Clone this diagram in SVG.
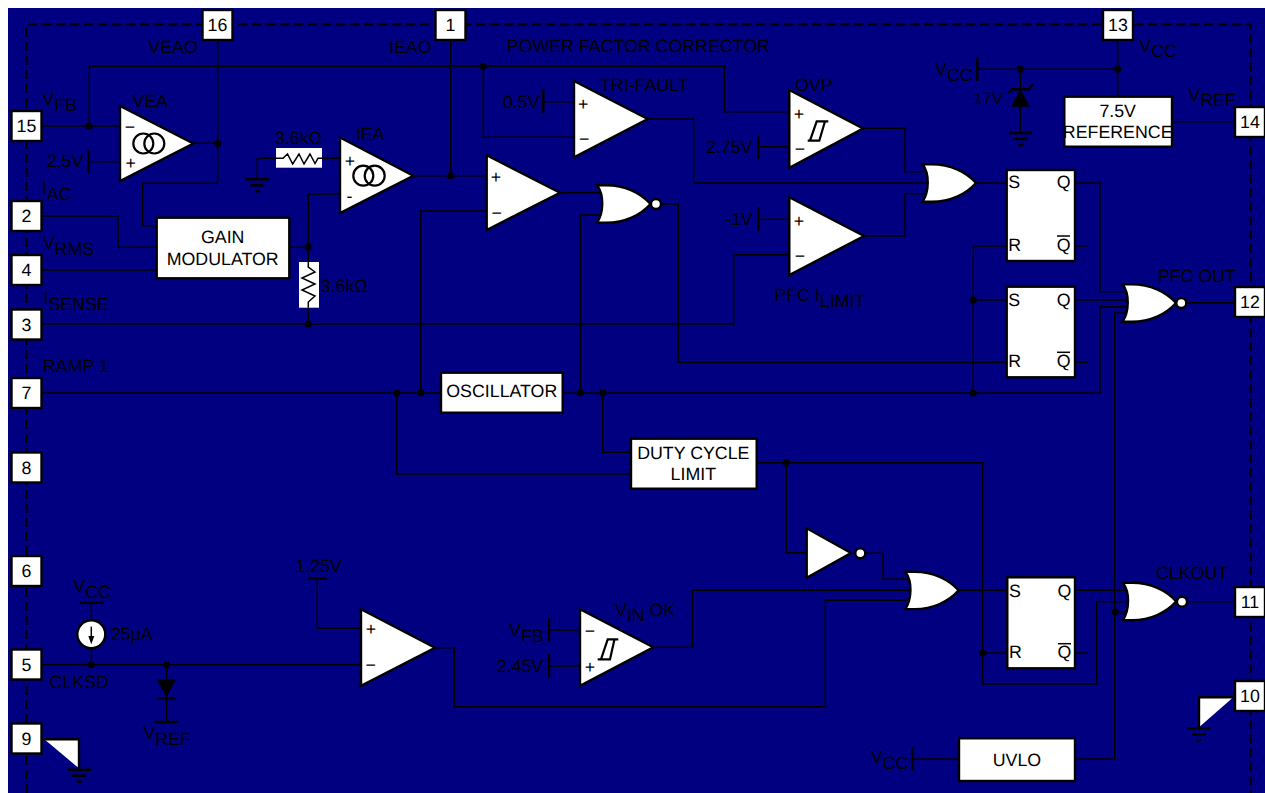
<svg xmlns="http://www.w3.org/2000/svg" xmlns:xlink="http://www.w3.org/1999/xlink" width="1265" height="793" viewBox="0 0 1265 793">
<style>
text{font-family:"Liberation Sans",Arial,sans-serif;font-size:17.8px;fill:#000;text-rendering:geometricPrecision}
.m{text-anchor:middle}
.w{fill:none;stroke:#000;stroke-width:1.5}
.b{fill:#fff;stroke:#000;stroke-width:2.4}
.bar{fill:none;stroke:#000;stroke-width:2.4}
.r{fill:#fff;stroke:none}
.hy{fill:none;stroke:#000;stroke-width:2.2}
.c{fill:none;stroke:#000;stroke-width:2.2}
.bd{fill:none;stroke:#000;stroke-width:2.2;stroke-dasharray:9 5}
</style>
<defs>
<circle id="dot" r="3.5" fill="#000"/>
<g id="gnd"><path class="bar" d="M-11.7,0H11.7M-7,6H7M-2.5,12H2.5"/></g>
<path id="orshape" class="b" d="M-1.5,0H8C26,0 42,7.5 52,18.7C42,30 26,37.4 8,37.4H-1.5C5,28 6,9.5 -1.5,0Z"/>
</defs>
<rect width="1265" height="793" fill="#fff"/>
<rect x="8" y="8" width="1257" height="785" fill="#000080"/>
<path id="package-outline" class="bd" d="M26.5,793V24.7H1250.7V793"/>
<g id="connectors">
<path class="w" d="M42,126H120M89.3,126V66.3H724.3V111.7H789.3M483.3,66.3V137.3H574"/>
<path class="w" d="M217.7,40V183.3H142.7V225.7H157M193,143.3H217.7"/>
<path class="w" d="M42,216H118V247.3H157M42,270H157"/>
<path class="w" d="M289,247.3H308.3M340,194H308.3V324"/>
<path class="w" d="M42,324H733.7V254.7H789.3"/>
<path class="w" d="M340,158.3H257.3V179"/>
<path class="w" d="M413,175.7H487M450.7,40V175.7"/>
<path class="w" d="M487,211H420.7V393M42,393H441M396.8,393V474H631"/>
<path class="w" d="M562,393H1100V306.7H1128M580.3,393V215H602M602.7,393V452.3H631"/>
<path class="w" d="M973.3,393V246H1007M973.3,300H1007"/>
<path class="w" d="M560,192.7H603M661,204H678.3V362.3H1007"/>
<path class="w" d="M647.7,119H693.7V183H928M976,183H1007"/>
<path class="w" d="M863,128.3H905V171.7H927M864,236H905V193.7H927"/>
<path class="w" d="M1075,183H1100V291.7H1128M1075,300H1128M1075,246H1087.7M1075,362.3H1087.7"/>
<path class="w" d="M1186,302.7H1235M1172,121.7H1235"/>
<path class="w" d="M1117.7,40V97M977.3,69.3H1117.7M1020.3,69.3V133"/>
<path class="w" d="M543.3,101.7H574M88.7,161.7H120M758.3,146.7H789.3M758.3,219.3H789.3"/>
<path class="w" d="M91.3,602.7V620M91.3,648V664.7M42,664.7H361M166.7,664.7V722"/>
<path class="w" d="M317.3,578.3V628.3H361"/>
<path class="w" d="M435,647.7H454.3V706.7H825.3V600.3H910"/>
<path class="w" d="M549,630H580M549,666H580"/>
<path class="w" d="M653,647.3H692.3V590.3H911M958,590.3H1007"/>
<path class="w" d="M757,462.7H982.7V684H1096.7V601.7H1128M982.7,653H1007M786.3,462.7V552.7H807"/>
<path class="w" d="M865,553.3H883V579H909"/>
<path class="w" d="M1075,590.3H1128M1075,653H1088M1187,601.7H1235"/>
<path class="w" d="M1128,313H1114.7V759H1075M1114.7,612H1128M1100,306.7H1128"/>
<path class="w" d="M912.7,759H959"/>
<use xlink:href="#dot" x="89.3" y="126"/><use xlink:href="#dot" x="217.7" y="143.3"/><use xlink:href="#dot" x="308.3" y="247.3"/><use xlink:href="#dot" x="308.3" y="324"/><use xlink:href="#dot" x="450.7" y="175.7"/><use xlink:href="#dot" x="483.3" y="66.3"/><use xlink:href="#dot" x="396.8" y="393"/><use xlink:href="#dot" x="420.7" y="393"/><use xlink:href="#dot" x="580.3" y="393"/><use xlink:href="#dot" x="602.7" y="393"/><use xlink:href="#dot" x="973.3" y="393"/><use xlink:href="#dot" x="973.3" y="300"/><use xlink:href="#dot" x="1020.3" y="69.3"/><use xlink:href="#dot" x="1117.7" y="69.3"/><use xlink:href="#dot" x="91.3" y="664.7"/><use xlink:href="#dot" x="166.7" y="664.7"/><use xlink:href="#dot" x="786.3" y="462.7"/><use xlink:href="#dot" x="982.7" y="653"/><use xlink:href="#dot" x="1115.3" y="612"/>
</g>

<g id="pin-16"><rect class="b" x="202.5" y="10" width="30" height="30"/><text class="m" x="217.5" y="31">16</text></g>
<g id="pin-1"><rect class="b" x="435.5" y="10" width="30" height="30"/><text class="m" x="450.5" y="31">1</text></g>
<g id="pin-13"><rect class="b" x="1103" y="10" width="30" height="30"/><text class="m" x="1118" y="31">13</text></g>
<g id="pin-15"><rect class="b" x="11.5" y="111" width="30" height="30"/><text class="m" x="26.5" y="132">15</text></g>
<g id="pin-2"><rect class="b" x="11.5" y="201" width="30" height="30"/><text class="m" x="26.5" y="222">2</text></g>
<g id="pin-4"><rect class="b" x="11.5" y="255" width="30" height="30"/><text class="m" x="26.5" y="276">4</text></g>
<g id="pin-3"><rect class="b" x="11.5" y="309.5" width="30" height="30"/><text class="m" x="26.5" y="330.5">3</text></g>
<g id="pin-7"><rect class="b" x="11.5" y="378" width="30" height="30"/><text class="m" x="26.5" y="399">7</text></g>
<g id="pin-8"><rect class="b" x="11.5" y="452.5" width="30" height="30"/><text class="m" x="26.5" y="473.5">8</text></g>
<g id="pin-6"><rect class="b" x="11.5" y="556" width="30" height="30"/><text class="m" x="26.5" y="577">6</text></g>
<g id="pin-5"><rect class="b" x="11.5" y="649.5" width="30" height="30"/><text class="m" x="26.5" y="670.5">5</text></g>
<g id="pin-9"><rect class="b" x="11.5" y="723.5" width="30" height="30"/><text class="m" x="26.5" y="744.5">9</text></g>
<g id="pin-14"><rect class="b" x="1235" y="107" width="30" height="30"/><text class="m" x="1250" y="128">14</text></g>
<g id="pin-12"><rect class="b" x="1235" y="287" width="30" height="30"/><text class="m" x="1250" y="308">12</text></g>
<g id="pin-11"><rect class="b" x="1235" y="587" width="30" height="30"/><text class="m" x="1250" y="608">11</text></g>
<g id="pin-10"><rect class="b" x="1235" y="681" width="30" height="30"/><text class="m" x="1250" y="702">10</text></g>

<g id="vea"><path class="b" d="M120,106V181L193.3,143.5Z"/><circle class="c" cx="143.3" cy="143.5" r="10"/><circle class="c" cx="154.3" cy="143.5" r="10"/><text class="m" x="130" y="133">−</text><text class="m" x="130.7" y="169">+</text></g>
<g id="vref-25"><path class="bar" d="M88.7,150V173"/><text x="46.7" y="167">2.5V</text></g>
<g id="gain-modulator"><rect class="b" x="156.7" y="217.7" width="132.6" height="60.6"/><text class="m" x="222.7" y="243">GAIN</text><text class="m" x="222.7" y="265">MODULATOR</text></g>
<g id="r-iea-plus"><rect class="r" x="276" y="148" width="46" height="19.7"/><path class="w" d="M276,158.3H283L287.5,154L292.7,164L299,154L304,164L310,154L315,163.5L318,158.3H322"/><text x="275" y="144">3.6kΩ</text></g>
<g id="gnd-iea"><use xlink:href="#gnd" x="257.3" y="179.3"/></g>
<g id="r-iea-minus"><rect class="r" x="299" y="262" width="20" height="45.7"/><path class="w" d="M308.3,262V267L315,272L302,278L315,284L302,290L315,296L308.3,302V307.7"/><text x="320.7" y="292">3.6kΩ</text></g>
<g id="iea"><path class="b" d="M340,137.5V213L413.3,175.7Z"/><circle class="c" cx="363.3" cy="175.7" r="10"/><circle class="c" cx="374.7" cy="175.7" r="10"/><text class="m" x="350" y="167">+</text><text class="m" x="349.5" y="201.5">-</text></g>
<g id="pwm-comparator"><path class="b" d="M486.7,155.3V230L560,192.7Z"/><text class="m" x="496" y="183">+</text><text class="m" x="496.7" y="219">−</text></g>
<g id="nor-pwm"><use xlink:href="#orshape" x="598.5" y="185.3"/><circle class="b" cx="656" cy="204" r="5"/></g>
<g id="tri-fault"><path class="b" d="M574,81V157.3L647.7,119Z"/><text class="m" x="583.3" y="110">+</text><text class="m" x="584.3" y="145">−</text><path class="bar" d="M543.3,89.3V112.7"/><text x="502.7" y="107.7">0.5V</text></g>
<g id="ovp"><path class="b" d="M789.3,90V167.7L863,128.5Z"/><text class="m" x="799" y="120">+</text><text class="m" x="800" y="155">−</text><path class="hy" d="M828.3,121.3H816.7L810,140.7M807.7,140.7H819.3L825,121.3"/><path class="bar" d="M758.3,135.7V159.3"/><text x="706" y="153.3">2.75V</text></g>
<g id="pfc-ilimit"><path class="b" d="M789.3,197.3V275L864,236Z"/><text class="m" x="799" y="227">+</text><text class="m" x="800" y="262">−</text><path class="bar" d="M758.3,207.3V231"/><text x="725" y="225">-1V</text></g>
<g id="or-set"><use xlink:href="#orshape" x="924" y="164.3"/></g>
<g id="ff-upper"><rect class="b" x="1006.7" y="170" width="68.3" height="91"/><text x="1008.3" y="188.3">S</text><text x="1056.7" y="188.3">Q</text><text x="1008.3" y="250.7">R</text><text x="1056.7" y="250.7">Q</text><path class="w" d="M1057,236H1070"/></g>
<g id="ff-lower"><rect class="b" x="1006.7" y="286.7" width="68.3" height="90.6"/><text x="1008.3" y="305.7">S</text><text x="1056.7" y="305.7">Q</text><text x="1008.3" y="367.3">R</text><text x="1056.7" y="367.3">Q</text><path class="w" d="M1057,352.3H1070"/></g>
<g id="nor-pfc"><use xlink:href="#orshape" x="1124" y="284.3"/><circle class="b" cx="1181.3" cy="303" r="5"/></g>
<g id="reference"><rect class="b" x="1064.3" y="96.7" width="107.7" height="50"/><text class="m" x="1117.7" y="117">7.5V</text><text class="m" x="1117.7" y="137.7">REFERENCE</text></g>
<g id="zener"><path fill="#000" d="M1011,106.7H1030L1020.3,89.3Z"/><path class="bar" d="M1008.3,93.3L1011.7,89.3H1029.3L1032.7,84"/><path class="bar" d="M977.3,57.3V81"/><use xlink:href="#gnd" x="1020.5" y="133"/><text x="973.3" y="104" style="font-size:16.5px">17V</text></g>
<g id="oscillator"><rect class="b" x="441" y="372.7" width="121.7" height="40"/><text class="m" x="501.8" y="397.3">OSCILLATOR</text></g>
<g id="duty-cycle-limit"><rect class="b" x="631" y="438.7" width="125.7" height="50"/><text class="m" x="693.3" y="459.3">DUTY CYCLE</text><text class="m" x="693.3" y="480">LIMIT</text></g>
<g id="inverter"><path class="b" d="M806.7,528.3V577.7L851,553Z"/><circle class="b" cx="860.3" cy="553.3" r="5"/></g>
<g id="or-clk"><use xlink:href="#orshape" x="906.7" y="571.7"/></g>
<g id="ff-clk"><rect class="b" x="1007.3" y="577.3" width="67.7" height="91"/><text x="1009" y="596.7">S</text><text x="1057.5" y="596.7">Q</text><text x="1009" y="658.3">R</text><text x="1057.5" y="658.3">Q</text><path class="w" d="M1058,643.7H1071"/></g>
<g id="nor-clk"><use xlink:href="#orshape" x="1124.3" y="582.7"/><circle class="b" cx="1182" cy="601.7" r="5"/></g>
<g id="uvlo"><rect class="b" x="959" y="738.3" width="116" height="42.7"/><text class="m" x="1017" y="765.7">UVLO</text><path class="bar" d="M912.7,747.3V770.7"/></g>
<g id="source-25ua"><path class="bar" d="M80,602.7H103.3"/><circle class="b" cx="91.3" cy="634.3" r="14"/><path class="w" d="M91.3,626.7V638"/><path fill="#000" d="M88.3,636H94.3L91.3,644.3Z"/><text x="110.7" y="640">25µA</text></g>
<g id="diode"><path fill="#000" d="M156.7,679.3H176L166.3,697.3Z"/><path class="bar" d="M157,698.3H176M154.7,722H178.3"/></g>
<g id="clk-comparator"><path class="b" d="M361,609.3V685.7L435,647.7Z"/><text class="m" x="371" y="635">+</text><text class="m" x="370.7" y="671">−</text><path class="bar" d="M307.7,578.3H327.3"/><text x="295.3" y="572.3">1.25V</text></g>
<g id="vin-ok"><path class="b" d="M580,609.3V685.7L653.3,647.3Z"/><text class="m" x="590" y="637">−</text><text class="m" x="590" y="673">+</text><path class="hy" d="M618.3,639.3H607.7L601,659.3M597.7,659.3H610L614.5,639.3"/><path class="bar" d="M549,618.3V641.7M549,654V677.7"/><text x="496.7" y="671.7">2.45V</text></g>
<g id="gnd-9"><path fill="#fff" d="M44,739H79V768.3Z"/><path class="bar" d="M44,739.3H79V768"/><use xlink:href="#gnd" x="79.3" y="769.7"/></g>
<g id="gnd-10"><path fill="#fff" d="M1199,697.3H1233.3L1199,727.3Z"/><path class="bar" d="M1233,697.3H1199V727"/><use xlink:href="#gnd" x="1199" y="728.3"/></g>

<g id="labels">
<text x="148.3" y="53.3">VEAO</text>
<text x="389" y="53.3">IEAO</text>
<text x="506.7" y="51.7">POWER FACTOR CORRECTOR</text>
<text x="132.3" y="106.7">VEA</text>
<text x="355.7" y="140">IEA</text>
<text x="600" y="91">TRI-FAULT</text>
<text x="795" y="91">OVP</text>
<text x="42.3" y="105">V<tspan dy="6">FB</tspan></text>
<text x="41.7" y="194">I<tspan dy="6">AC</tspan></text>
<text x="42.7" y="249">V<tspan dy="6">RMS</tspan></text>
<text x="43.5" y="303.5">I<tspan dy="6">SENSE</tspan></text>
<text x="42.7" y="371.7">RAMP 1</text>
<text x="774.3" y="301">PFC I<tspan dy="5.5">LIMIT</tspan></text>
<text x="935" y="75">V<tspan dy="5.5">CC</tspan></text>
<text x="1139.3" y="51.7">V<tspan dy="5.5">CC</tspan></text>
<text x="1188.3" y="100.5">V<tspan dy="5.5">REF</tspan></text>
<text x="1157.7" y="282.3">PFC OUT</text>
<text x="1156" y="579">CLKOUT</text>
<text x="73.3" y="591.7">V<tspan dy="6">CC</tspan></text>
<text x="49.3" y="687.7">CLKSD</text>
<text x="143.3" y="739.3">V<tspan dy="6">REF</tspan></text>
<text x="509" y="636">V<tspan dy="5.5">FB</tspan></text>
<text x="615" y="615.7">V<tspan dy="5.5">IN</tspan><tspan dy="-5.5"> OK</tspan></text>
<text x="870.7" y="763.3">V<tspan dy="6">CC</tspan></text>
</g>
</svg>
